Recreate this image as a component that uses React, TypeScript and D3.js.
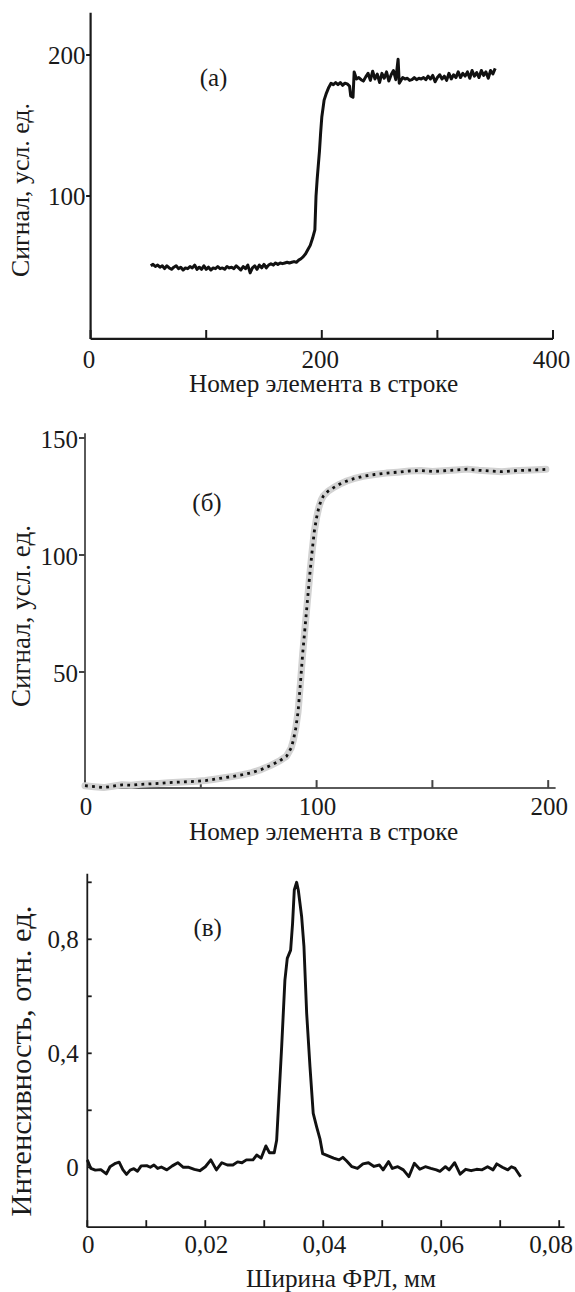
import React from 'react';
import * as d3 from 'd3';

const FONT = "'Liberation Serif', Tinos, 'Times New Roman', Times, serif";
const INK = '#1a1a1a';

// ---------- Panel (а) ----------
const aXTicks = [0, 100, 200, 300, 400];
const aXLabels = [0, 200, 400];
const aYTicks = [100, 200];
const aPoints: [number, number][] = [
  [52,50.5],[54,51.5],[56,50],[58,51],[60,49.5],[62,50.5],[64,48.5],[66,50.5],[68,49],[70,48],
  [72,49.5],[74,50.5],[76,48.5],[78,49.5],[80,47.5],[82,49],[84,48.5],[86,50],[88,49],[90,51],
  [92,48],[94,49.5],[96,48],[98,50.5],[100,48],[102,49.5],[104,47.5],[106,49],[108,48.5],[110,50],
  [112,48.5],[114,49],[116,48],[118,50],[120,49],[122,49.5],[124,48.5],[126,50.5],[128,49],[130,47.5],
  [132,50],[134,48.5],[136,51],[138,45.5],[140,49],[142,50.5],[144,48],[146,51],[148,49],[150,51.5],
  [152,49],[154,51],[156,52],[158,51],[160,52.5],[162,51.5],[164,52.5],[166,52],[168,52.5],[170,53],
  [172,52.5],[174,53],[176,53.5],[178,53],[180,54.5],[182,55.5],[184,57],[186,59],[188,62],[190,65],
  [192,70],[194,76],[195,100],[196,112],[197,122],[198,132],[199,145],[200,156],[201,162],[202,168],
  [204,173],[206,177],[208,180],[210,179],[212,180.5],[214,179],[216,180.5],[218,178.5],[220,180],[222,179.5],
  [224,178],[225,171],[227,170],[228,188],[230,183],[232,184],[234,182.5],[236,181.5],[238,184.5],[240,187],
  [242,182],[244,188.5],[246,183],[248,186.5],[250,180.5],[252,187],[254,183.5],[256,188],[258,181.5],[260,186],
  [262,189],[264,182.5],[266,197],[267,180],[270,184],[272,183],[274,183.5],[276,182],[278,182.5],[280,184],
  [282,182.5],[284,183.5],[286,183],[288,184],[290,182.5],[292,185],[294,183],[296,185.5],[298,181],[300,184],
  [302,186],[304,183],[306,185],[308,182],[310,187],[312,183],[314,186],[316,184],[318,188],[320,184],
  [322,187],[324,185],[326,188],[328,183.5],[330,189],[332,185],[334,187.5],[336,184],[338,189],[340,185.5],
  [342,188],[344,183.5],[346,189],[348,186.5],[350,190.5],
];

// ---------- Panel (б) ----------
const bXTicks = [0, 50, 100, 150, 200];
const bXLabels = [0, 100, 200];
const bYTicks = [50, 100, 150];
const bPoints: [number, number][] = [
  [0,1.4],[4,1.0],[8,0.6],[12,1.2],[16,1.8],[20,1.6],[24,2.0],[28,2.2],[32,2.4],[36,2.7],
  [40,2.9],[44,3.1],[48,3.3],[52,3.6],[56,4.2],[60,4.8],[64,5.4],[68,6.1],[72,7.0],[76,8.3],
  [80,10.0],[84,12.0],[87,14.0],[89,17.5],[90,21],[91,26],[92,33],[93,45],[94,58],[95,69],
  [96,80],[97,91],[98,101],[99,110],[100,116],[101,120.5],[102,123.5],[103,125.3],[105,127.3],[107,128.6],
  [110,130.3],[113,131.6],[116,132.6],[120,133.6],[125,134.4],[130,135],[135,135.4],[140,135.9],[145,136.1],[150,135.7],
  [155,136],[160,136.3],[165,136.7],[170,136.2],[175,135.9],[180,135.6],[185,136],[190,136.2],[195,136.4],[199,136.6],
];

// ---------- Panel (в) ----------
const cXTicks = [0, 0.01, 0.02, 0.03, 0.04, 0.05, 0.06, 0.07, 0.08];
const cXLabels = [0, 0.02, 0.04, 0.06, 0.08];
const cYTicks = [0, 0.2, 0.4, 0.6, 0.8, 1.0];
const cYLabels = [0, 0.4, 0.8];
const cPoints: [number, number][] = [
  [0,0.026],[0.0006,-0.004],[0.00136,-0.01],[0.00229,-0.008],[0.00323,-0.023],[0.00385,0.002],[0.00478,0.014],[0.0054,0.018],
  [0.00602,-0.008],[0.00665,-0.025],[0.00727,-0.01],[0.00789,-0.005],[0.00851,-0.014],[0.00913,0.005],[0.01007,0.006],[0.01068,0],
  [0.0113,0.008],[0.01193,-0.004],[0.01255,0.001],[0.01348,-0.009],[0.01441,0.005],[0.01534,0.016],[0.01628,0],[0.01721,0],
  [0.01815,-0.007],[0.01908,-0.012],[0.02001,0.002],[0.02094,0.026],[0.02188,-0.009],[0.02281,0.016],[0.02374,0.008],[0.02468,0.008],
  [0.02548,0.019],[0.02622,0.016],[0.02697,0.026],[0.02809,0.026],[0.02871,0.043],[0.02946,0.032],[0.03027,0.075],[0.03088,0.051],
  [0.03169,0.051],[0.0321,0.095],[0.03295,0.423],[0.0335,0.657],[0.0339,0.733],[0.03447,0.762],[0.0348,0.856],[0.03509,0.973],
  [0.03549,1.0],[0.03577,0.973],[0.03634,0.879],[0.03673,0.774],[0.03719,0.54],[0.03775,0.353],[0.0383,0.189],[0.03888,0.142],
  [0.03944,0.1],[0.0399,0.048],[0.04083,0.04],[0.04176,0.032],[0.04269,0.026],[0.04332,0.035],[0.04393,0.023],[0.04486,0.002],
  [0.0458,-0.004],[0.04673,0.012],[0.04766,0.016],[0.04861,0.003],[0.04953,0.008],[0.05015,-0.009],[0.05108,0.02],[0.05171,-0.004],
  [0.05264,0.002],[0.05358,-0.009],[0.05451,-0.033],[0.05544,0.014],[0.05637,-0.007],[0.0573,0.002],[0.05824,-0.004],[0.05917,-0.009],
  [0.05978,-0.014],[0.06071,0.002],[0.06134,-0.009],[0.06227,0.016],[0.0632,-0.024],[0.06414,-0.007],[0.06507,-0.012],[0.066,-0.007],
  [0.06693,-0.009],[0.06786,0.002],[0.0688,-0.009],[0.06942,0.012],[0.07036,0],[0.07129,-0.009],[0.0719,0.002],[0.07253,-0.004],
  [0.07346,-0.033],
];

const fmtComma = (d: number) => (d === 0 ? '0' : String(d).replace('.', ','));

const xA = d3.scaleLinear().domain([0, 400]).range([90.6, 553]);
const yA = d3.scaleLinear().domain([0, 200]).range([337, 55]);
const xB = d3.scaleLinear().domain([0, 200]).range([85, 548.2]);
const yB = d3.scaleLinear().domain([0, 150]).range([789, 438]);
const xC = d3.scaleLinear().domain([0, 0.08]).range([87.3, 559.2]);
const yC = d3.scaleLinear().domain([0, 0.8]).range([1167.3, 939.3]);

function linePath(pts: [number, number][], sx: any, sy: any) {
  return d3.line<[number, number]>().x((d) => sx(d[0])).y((d) => sy(d[1]))(pts) || '';
}

function T(props: any) {
  const { size = 25, children, ...rest } = props;
  return (
    <text fontFamily={FONT} fontSize={size} fill={INK} style={{ fontFamily: FONT, fontSize: size + 'px' }} {...rest}>
      {children}
    </text>
  );
}

export default function App() {
  const aX0 = xA(0), aX1 = xA(400), aYb = yA(-1.4), aYt = yA(230);
  const bX0 = xB(0), bX1 = xB(203.2), bYb = yB(0.4), bYt = yB(152);
  const cX0 = xC(0), cX1 = xC(0.0809), cYb = yC(-0.21), cYt = yC(1.03);

  return (
    <div style={{ position: 'absolute', left: 0, top: 0, fontFamily: FONT }}>
      <svg width={575} height={1292} fontFamily={FONT} style={{ display: 'block', background: '#fff', fontFamily: FONT }}>
        <rect x={0} y={0} width={575} height={1292} fill="#fff" />

        {/* ===== Panel а ===== */}
        <g>
          <line x1={aX0} x2={aX0} y1={aYt} y2={aYb} stroke={INK} strokeWidth={2.2} />
          <line x1={aX0} x2={aX1} y1={aYb} y2={aYb} stroke={INK} strokeWidth={2.2} />
          {aXTicks.map((t) => (
            <line key={'axt' + t} x1={xA(t)} x2={xA(t)} y1={aYb} y2={aYb - 9} stroke={INK} strokeWidth={2} />
          ))}
          {aYTicks.map((t) => (
            <line key={'ayt' + t} x1={aX0} x2={aX0 - 4.5} y1={yA(t)} y2={yA(t)} stroke={INK} strokeWidth={2} />
          ))}
          {aXLabels.map((t) => (
            <T key={'axl' + t} x={xA(t) - 1.5} y={368} textAnchor="middle">{t}</T>
          ))}
          {aYTicks.map((t) => (
            <T key={'ayl' + t} x={aX0 - 5} y={yA(t) + 9} textAnchor="end">{t}</T>
          ))}
          <path d={linePath(aPoints, xA, yA)} fill="none" stroke="#111" strokeWidth={3} strokeLinejoin="round" />
          <T x={213.5} y={85.5} textAnchor="middle">(а)</T>
          <T x={323.6} y={392} textAnchor="middle" textLength={269} lengthAdjust="spacingAndGlyphs">
            Номер элемента в строке
          </T>
          <T size={26} transform="translate(29,190) rotate(-90)" textAnchor="middle" textLength={174} lengthAdjust="spacingAndGlyphs">
            Сигнал, усл. ед.
          </T>
        </g>

        {/* ===== Panel б ===== */}
        <g>
          <line x1={bX0} x2={bX0} y1={bYt} y2={bYb} stroke="#5a5a5a" strokeWidth={2} />
          <line x1={bX0} x2={bX1} y1={bYb} y2={bYb} stroke="#5a5a5a" strokeWidth={2} />
          {bXTicks.map((t) => (
            <line key={'bxt' + t} x1={xB(t)} x2={xB(t)} y1={bYb} y2={bYb - 8} stroke="#444" strokeWidth={2} />
          ))}
          {bYTicks.map((t) => (
            <line key={'byt' + t} x1={bX0} x2={bX0 - 6} y1={yB(t)} y2={yB(t)} stroke="#444" strokeWidth={2} />
          ))}
          {bXLabels.map((t) => (
            <T key={'bxl' + t} x={xB(t) + 1} y={815} textAnchor="middle">{t}</T>
          ))}
          {bYTicks.map((t) => (
            <T key={'byl' + t} x={bX0 - 7} y={yB(t) + 10} textAnchor="end">{t}</T>
          ))}
          <path d={linePath(bPoints, xB, yB)} fill="none" stroke="#d2d2d2" strokeWidth={7} strokeLinejoin="round" strokeLinecap="round" />
          <path d={linePath(bPoints, xB, yB)} fill="none" stroke="#111" strokeWidth={2.8} strokeDasharray="2.8 4.3" />
          <T x={207} y={510.5} textAnchor="middle">(б)</T>
          <T x={323.6} y={840} textAnchor="middle" textLength={269} lengthAdjust="spacingAndGlyphs">
            Номер элемента в строке
          </T>
          <T size={27} transform="translate(30,616) rotate(-90)" textAnchor="middle" textLength={182} lengthAdjust="spacingAndGlyphs">
            Сигнал, усл. ед.
          </T>
        </g>

        {/* ===== Panel в ===== */}
        <g>
          <line x1={cX0} x2={cX0} y1={cYt} y2={cYb} stroke={INK} strokeWidth={1.8} />
          <line x1={cX0} x2={cX1} y1={cYb} y2={cYb} stroke={INK} strokeWidth={1.8} />
          {cXTicks.map((t) => (
            <line key={'cxt' + t} x1={xC(t)} x2={xC(t)} y1={cYb} y2={cYb - 7} stroke={INK} strokeWidth={1.8} />
          ))}
          {cYTicks.map((t) => (
            <line key={'cyt' + t} x1={cX0} x2={cX0 + 4.4} y1={yC(t)} y2={yC(t)} stroke={INK} strokeWidth={1.8} />
          ))}
          {cXLabels.map((t, i) =>
            i === cXLabels.length - 1 ? (
              <T key={'cxl' + t} x={573} y={1253} textAnchor="end">{fmtComma(t)}</T>
            ) : (
              <T key={'cxl' + t} x={xC(t) + 1} y={1253} textAnchor="middle">{fmtComma(t)}</T>
            )
          )}
          {cYLabels.map((t) => (
            <T key={'cyl' + t} x={cX0 - 8.5} y={yC(t) + 9} textAnchor="end">{fmtComma(t)}</T>
          ))}
          <path d={linePath(cPoints, xC, yC)} fill="none" stroke="#111" strokeWidth={2.9} strokeLinejoin="round" />
          <T x={207.7} y={935.5} textAnchor="middle">(в)</T>
          <T x={341} y={1287} textAnchor="middle" textLength={190} lengthAdjust="spacingAndGlyphs">
            Ширина ФРЛ, мм
          </T>
          <T size={29} transform="translate(31,1061) rotate(-90)" textAnchor="middle" textLength={311} lengthAdjust="spacingAndGlyphs">
            Интенсивность, отн. ед.
          </T>
        </g>
      </svg>
    </div>
  );
}
